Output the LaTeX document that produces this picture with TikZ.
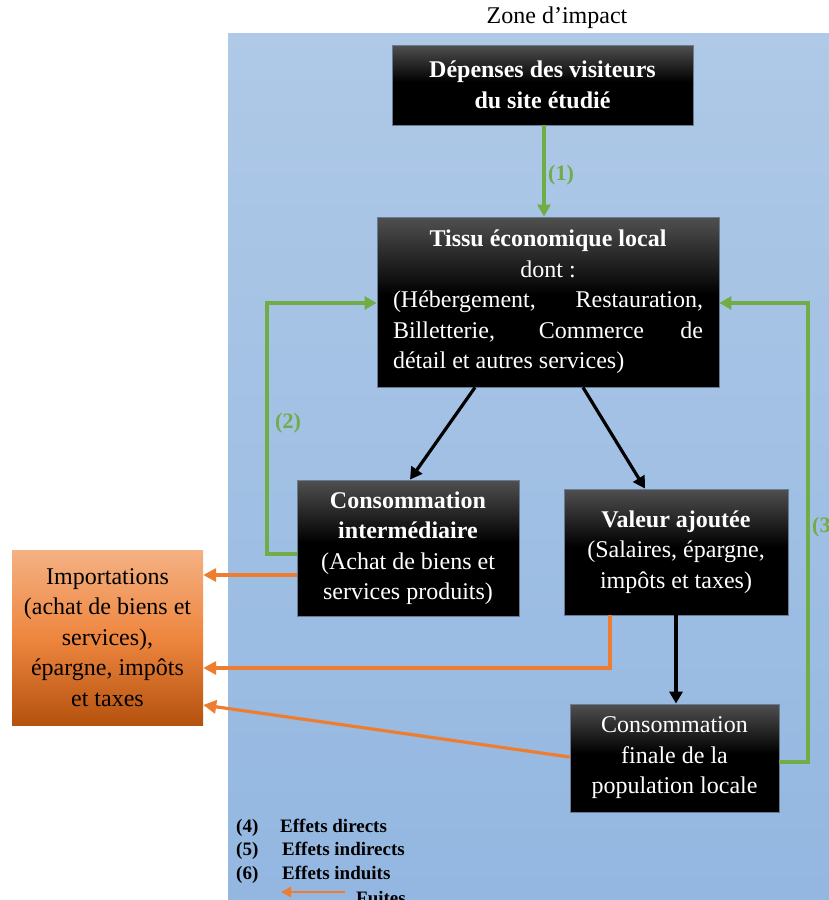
\documentclass[tikz,border=0pt]{standalone}
\usepackage{fontspec}
\setmainfont{Liberation Serif}
\usetikzlibrary{arrows.meta,calc}
\definecolor{boxtop}{HTML}{505050}
\definecolor{bluetop}{HTML}{AFC9E7}
\definecolor{bluebot}{HTML}{93B7E1}
\definecolor{ortop}{HTML}{F4B183}
\definecolor{ormid}{HTML}{EE863F}
\definecolor{orbot}{HTML}{B4520E}
\definecolor{grn}{HTML}{70AD47}
\definecolor{org}{HTML}{ED7D31}
\definecolor{edge}{HTML}{6A7A90}
\pgfdeclareverticalshading{boxsh}{100bp}{color(0bp)=(black); color(25bp)=(black); color(52bp)=(black); color(75bp)=(boxtop); color(100bp)=(boxtop)}
\begin{document}
\begin{tikzpicture}[x=1pt,y=-1pt,
  darkbox/.style={shading=boxsh, draw=edge, line width=0.8pt, text=white, inner sep=0pt, align=center,
    font=\fontsize{24}{30.5}\selectfont},
  impbox/.style={top color=ortop, bottom color=orbot, middle color=ormid, draw=none, text=black, inner sep=0pt, align=center,
    font=\fontsize{24}{30.5}\selectfont},
  garrow/.style={draw=grn, line width=3.2pt, -{Triangle[length=12pt,width=13pt]}},
  barrow/.style={draw=black, line width=3.2pt, -{Triangle[length=12pt,width=13pt]}},
  oarrow/.style={draw=org, line width=3.2pt, -{Triangle[length=13pt,width=13pt]}},
  glabel/.style={text=grn, font=\fontsize{22}{26}\bfseries\selectfont, inner sep=0pt},
  legtext/.style={font=\fontsize{19}{23}\bfseries\selectfont, inner sep=0pt, anchor=base west},
]
\useasboundingbox (0,0) rectangle (829,900);
\fill[white] (0,0) rectangle (829,900);
\shade[top color=bluetop, bottom color=bluebot] (228,33) rectangle (829,900);

\node[font=\fontsize{24}{28}\selectfont, inner sep=0pt] (zone) at (557,18) {Zone d’impact};

\node[darkbox, minimum width=301pt, minimum height=80pt] (b1) at (542.5,85)
  {\textbf{Dépenses des visiteurs}\\\textbf{du site étudié}};
\node[darkbox, minimum width=342pt, minimum height=170pt] (b2) at (548,302)
  {\textbf{Tissu économique local}\\dont :\\
   \makebox[310pt][s]{(Hébergement, Restauration,}\\
   \makebox[310pt][s]{Billetterie, Commerce de}\\
   \makebox[310pt][l]{détail et autres services)}};
\node[darkbox, minimum width=222pt, minimum height=136pt] (b3) at (408,548)
  {\textbf{Consommation}\\\textbf{intermédiaire}\\(Achat de biens et\\services produits)};
\node[darkbox, minimum width=224pt, minimum height=126pt] (b4) at (676,552)
  {\textbf{Valeur ajoutée}\\(Salaires, épargne,\\impôts et taxes)};
\node[darkbox, minimum width=209pt, minimum height=108pt] (b5) at (674.5,758)
  {Consommation\\finale de la\\population locale};
\node[impbox, minimum width=191pt, minimum height=175pt] (imp) at (107.5,637.5)
  {Importations\\(achat de biens et\\services),\\épargne, impôts\\et taxes};

% green connectors
\draw[garrow] ([xshift=1.5pt]b1.south) -- ([xshift=1.5pt]b1.south |- b2.north);
\node[glabel] (l1) at (561,175) {(1)};
\coordinate (c2) at (267,303);
\draw[garrow] ([yshift=-6pt]b3.west) -| (c2) -- (b2.west |- c2);
\node[glabel] (l2) at (288,423) {(2)};
\coordinate (c3) at (808,303);
\draw[garrow] ([yshift=-4pt]b5.east) -| (c3) -- (b2.east |- c3);
\node[glabel, anchor=west] (l3) at (812,527) {(3)};

% black connectors
\draw[barrow] ([xshift=-73pt]b2.south) -- ([xshift=2pt]b3.north);
\draw[barrow] ([xshift=35pt]b2.south) -- ([xshift=-31pt]b4.north);
\draw[barrow] (b4.south) -- (b4.south |- b5.north);

% orange connectors
\draw[oarrow] ([yshift=-27pt]b3.west) -- ([yshift=-27pt]b3.west -| imp.east);
\draw[oarrow] ([xshift=-66pt]b4.south) |- ([yshift=-30.5pt]imp.east);
\draw[oarrow] ([yshift=1pt]b5.west) -- ([yshift=-67.5pt]imp.east);

% legend
\node[legtext] (n4) at (236,832) {(4)};
\node[legtext] (e4) at (280,832) {Effets directs};
\node[legtext] (n5) at (236,855) {(5)};
\node[legtext] (e5) at (282,855) {Effets indirects};
\node[legtext] (n6) at (236,879) {(6)};
\node[legtext] (e6) at (282,879) {Effets induits};
\coordinate (fa) at (345,892);
\coordinate (fb) at (281,892);
\draw[draw=org, line width=2.6pt, -{Triangle[length=10pt,width=10pt]}] (fa) -- (fb);
\node[legtext] (fu) at (356,904) {Fuites};
\end{tikzpicture}
\end{document}
